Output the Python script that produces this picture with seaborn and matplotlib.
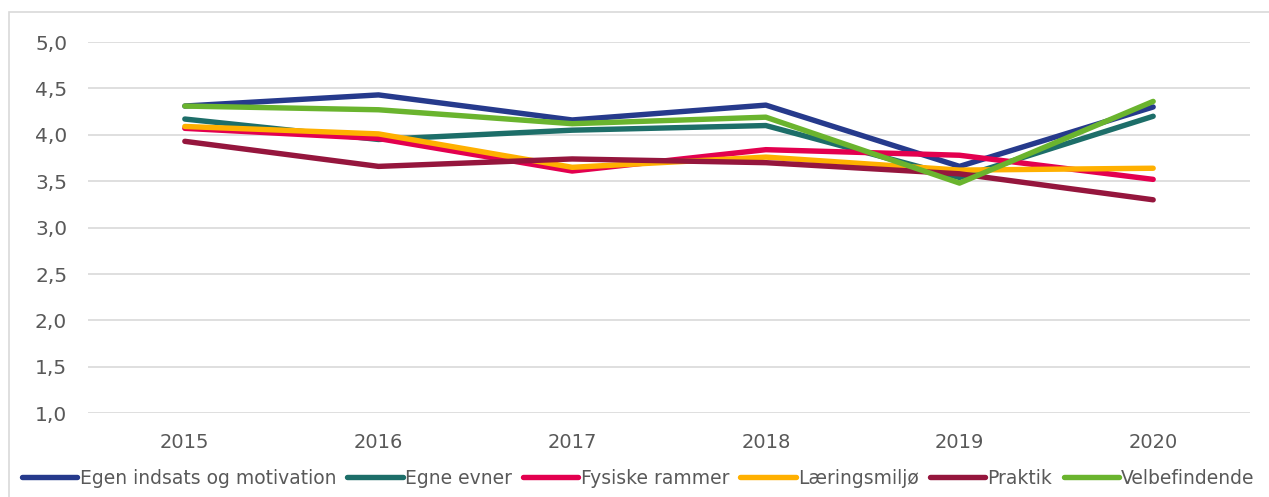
import matplotlib
matplotlib.use("Agg")
import matplotlib.pyplot as plt
from matplotlib.patches import Rectangle
import seaborn as sns
import pandas as pd

years = [2015, 2016, 2017, 2018, 2019, 2020]

egen_indsats = [4.31, 4.43, 4.16, 4.32, 3.66, 4.30]
egne_evner = [4.17, 3.95, 4.05, 4.10, 3.54, 4.20]
fysiske_rammer = [4.07, 3.96, 3.61, 3.84, 3.78, 3.52]
laeringsmiljo = [4.09, 4.01, 3.65, 3.76, 3.62, 3.64]
praktik = [3.93, 3.66, 3.74, 3.70, 3.58, 3.30]
velbefindende = [4.31, 4.27, 4.12, 4.19, 3.48, 4.36]

series_names = ["Egen indsats og motivation", "Egne evner", "Fysiske rammer",
                "Læringsmiljø", "Praktik", "Velbefindende"]
series_values = [egen_indsats, egne_evner, fysiske_rammer,
                 laeringsmiljo, praktik, velbefindende]
colors = ["#263A8C", "#1D6E69", "#E3004F", "#FFB000", "#95163D", "#6AB42E"]

y_ticks = [1.0, 1.5, 2.0, 2.5, 3.0, 3.5, 4.0, 4.5, 5.0]
y_tick_labels = ["1,0", "1,5", "2,0", "2,5", "3,0", "3,5", "4,0", "4,5", "5,0"]

rows = []
for name, vals in zip(series_names, series_values):
    for yr, v in zip(years, vals):
        rows.append({"År": yr, "Score": v, "Område": name})
df = pd.DataFrame(rows)

sns.set_theme(style="white")
plt.rcParams["font.family"] = ["DejaVu Sans"]

fig = plt.figure(figsize=(12.69, 4.97), dpi=100)
ax = fig.add_axes([88 / 1269, 1 - 413.3 / 497, (1250 - 88) / 1269, (413.3 - 42) / 497])

# chart-area border
fig.patches.append(Rectangle((9 / 1269, -0.1), 1.2, 1.1 - 11.5 / 497,
                             transform=fig.transFigure, fill=False,
                             edgecolor="#d9d9d9", linewidth=1.2, zorder=0))

sns.lineplot(data=df, x="År", y="Score", hue="Område", hue_order=series_names,
             palette=colors, linewidth=3.9, ax=ax, legend=False,
             solid_capstyle="round", solid_joinstyle="round")

ax.set_xlim(2014.5, 2020.5)
ax.set_ylim(1.0, 5.0)
ax.set_xticks(years)
ax.set_xticklabels([str(y) for y in years])
ax.set_yticks(y_ticks)
ax.set_yticklabels(y_tick_labels)
ax.set_xlabel("")
ax.set_ylabel("")
ax.grid(axis="y", color="#d9d9d9", linewidth=1.2)
ax.set_axisbelow(True)
for s in ax.spines.values():
    s.set_visible(False)
ax.tick_params(axis="both", length=0, labelsize=14, labelcolor="#595959")
ax.tick_params(axis="y", pad=15, labelsize=14.5)
ax.tick_params(axis="x", pad=14)

handles = [plt.Line2D([], [], color=c, linewidth=3.9, solid_capstyle="round")
           for c in colors]
leg = fig.legend(handles, series_names, loc="center left", ncol=6,
                 bbox_to_anchor=(22 / 1269, 1 - 478 / 497), frameon=False,
                 fontsize=13.5, handlelength=2.95, handletextpad=0.12,
                 columnspacing=0.6, borderaxespad=0, borderpad=0)
for t in leg.get_texts():
    t.set_color("#595959")

fig.savefig("out.png", dpi=100)
